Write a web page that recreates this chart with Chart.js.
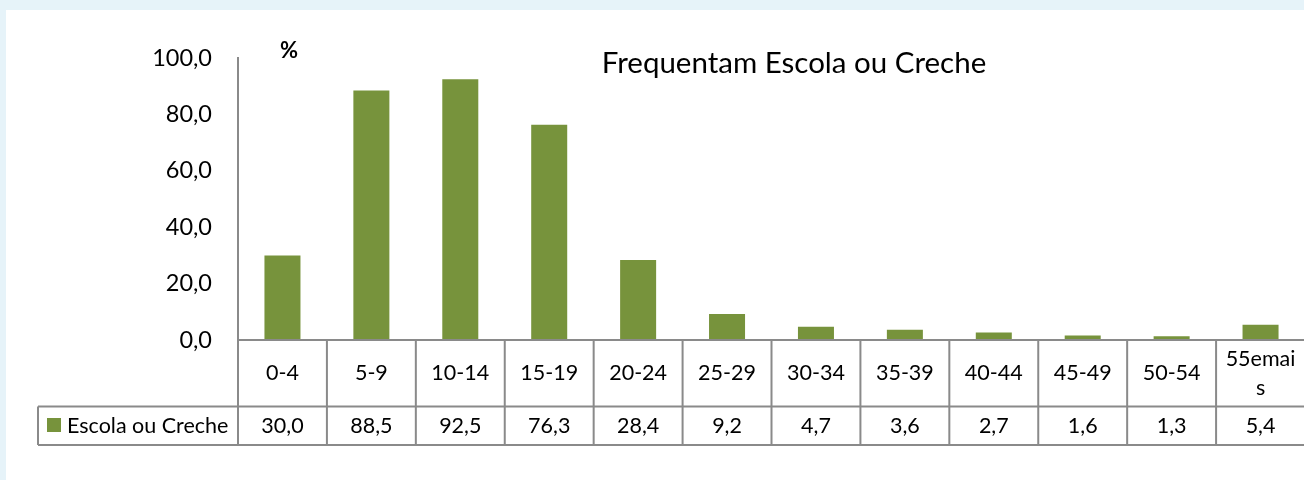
<!DOCTYPE html>
<html>
<head>
<meta charset="utf-8">
<script src="https://cdn.jsdelivr.net/npm/chart.js@4.4.1/dist/chart.umd.min.js"></script>
<style>
html, body { margin: 0; padding: 0; overflow: hidden; background: #e6f3f9; }
#painel { position: absolute; left: 6px; top: 10px; width: 1304px; height: 470px; background: #fff; }
</style>
</head>
<body>
<div id="painel"><canvas id="grafico"></canvas></div>
<script>
// Dados do gráfico
const faixas = ['0-4', '5-9', '10-14', '15-19', '20-24', '25-29', '30-34', '35-39', '40-44', '45-49', '50-54', ['55emai', 's']];
const escolaCreche = [30.0, 88.5, 92.5, 76.3, 28.4, 9.2, 4.7, 3.6, 2.7, 1.6, 1.3, 5.4];
const nomeSerie = 'Escola ou Creche';
const titulo = 'Frequentam Escola ou Creche';
const unidade = '%';

const verde = '#77933c';
const cinza = '#8a8a8a';

function formatar(v) {
    return v.toFixed(1).replace('.', ',');
}

Chart.defaults.font.family = 'Lato';
Chart.defaults.color = '#000';

// Tabela de dados abaixo do eixo, título e unidade
const tabelaDados = {
    id: 'tabelaDados',
    afterDraw(chart) {
        const { ctx, chartArea: a, scales: { x } } = chart;
        const passo = (a.right - a.left) / faixas.length;
        const y0 = a.bottom, y1 = a.bottom + 66.5, y2 = a.bottom + 105;
        const esq = 32;

        ctx.save();
        ctx.strokeStyle = cinza;
        ctx.lineWidth = 2;
        ctx.beginPath();
        ctx.moveTo(a.left, y0); ctx.lineTo(a.right, y0);
        ctx.moveTo(esq, y1); ctx.lineTo(a.right, y1);
        ctx.moveTo(esq, y2); ctx.lineTo(a.right, y2);
        ctx.moveTo(esq, y1); ctx.lineTo(esq, y2);
        for (let i = 0; i < faixas.length; i++) {
            const xx = x.getPixelForValue(i) - passo / 2;
            ctx.moveTo(xx, y0); ctx.lineTo(xx, y2);
        }
        ctx.moveTo(a.right, y0); ctx.lineTo(a.right, y2);
        ctx.stroke();

        ctx.fillStyle = '#000';
        ctx.font = '21.5px Lato';
        ctx.textAlign = 'center';
        ctx.textBaseline = 'middle';
        faixas.forEach((f, i) => {
            const cx = x.getPixelForValue(i);
            const linhas = Array.isArray(f) ? f : [f];
            const meio = (y0 + y1) / 2;
            linhas.forEach((l, j) => {
                ctx.fillText(l, cx, meio + (j - (linhas.length - 1) / 2) * 29);
            });
            ctx.fillText(formatar(escolaCreche[i]), cx, (y1 + y2) / 2);
        });

        // legenda na tabela
        ctx.fillStyle = verde;
        ctx.fillRect(41, 408, 14, 14);
        ctx.fillStyle = '#000';
        ctx.textAlign = 'left';
        ctx.fillText(nomeSerie, 61, (y1 + y2) / 2);

        // título e unidade
        ctx.textAlign = 'center';
        ctx.font = '29.5px Lato';
        ctx.fillText(titulo, 788, 53);
        ctx.font = 'bold 22px Lato';
        ctx.fillText(unidade, 283, 41);
        ctx.restore();
    }
};

new Chart(document.getElementById('grafico'), {
    type: 'bar',
    data: {
        labels: faixas,
        datasets: [{
            label: nomeSerie,
            data: escolaCreche,
            backgroundColor: verde,
            barPercentage: 0.9,
            categoryPercentage: 0.45
        }]
    },
    options: {
        responsive: true,
        maintainAspectRatio: false,
        animation: false,
        layout: { padding: { top: 48, bottom: 140, right: 5, left: 0 } },
        plugins: {
            legend: { display: false },
            tooltip: { enabled: false }
        },
        scales: {
            x: { display: false },
            y: {
                min: 0,
                max: 100,
                afterFit(s) { s.width = 232; },
                ticks: {
                    stepSize: 20,
                    padding: 26,
                    font: { size: 23.5 },
                    callback: v => formatar(v)
                },
                grid: { drawOnChartArea: false, drawTicks: false },
                border: { display: true, color: cinza, width: 2 }
            }
        }
    },
    plugins: [tabelaDados]
});
</script>
</body>
</html>
